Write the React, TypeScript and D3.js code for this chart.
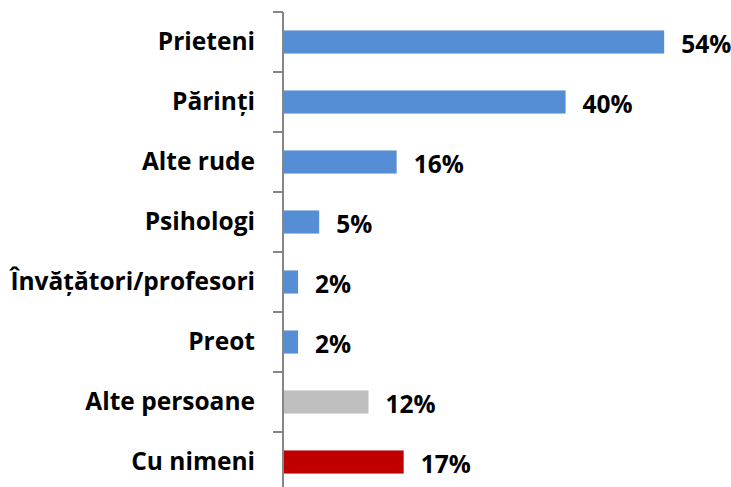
import { useEffect, useRef } from "react";
import * as d3 from "d3";

const categories = [
  "Prieteni",
  "Părinți",
  "Alte rude",
  "Psihologi",
  "Învățători/profesori",
  "Preot",
  "Alte persoane",
  "Cu nimeni",
];
const values = [54, 40, 16, 5, 2, 2, 12, 17];
const colors = ["#558ED5", "#558ED5", "#558ED5", "#558ED5", "#558ED5", "#558ED5", "#BFBFBF", "#C00000"];

const W = 731;
const H = 487;

export default function App() {
  const ref = useRef<SVGSVGElement>(null);

  useEffect(() => {
    document.body.style.margin = "0";
    const svg = d3.select(ref.current);
    svg.selectAll("*").remove(); // Clear before redraw

    const axisX = 283;
    const y = d3.scaleBand<string>().domain(categories).range([12, 492]).padding(0);
    const x = d3.scaleLinear().domain([0, 100]).range([axisX + 1, axisX + 1 + 704]);
    const barH = y.step() * 0.385;
    const mid = (c: string) => y(c)! + y.bandwidth() / 2;

    const font = "'Open Sans', 'Noto Sans', sans-serif";

    // Bars
    svg
      .selectAll("rect.bar")
      .data(values)
      .join("rect")
      .attr("class", "bar")
      .attr("x", x(0))
      .attr("y", (_, i) => mid(categories[i]) - barH / 2)
      .attr("width", (d) => x(d) - x(0))
      .attr("height", barH)
      .attr("fill", (_, i) => colors[i]);

    // Axis line and ticks
    svg
      .append("line")
      .attr("x1", axisX)
      .attr("x2", axisX)
      .attr("y1", 12)
      .attr("y2", H)
      .attr("stroke", "#868686")
      .attr("stroke-width", 2);

    svg
      .selectAll("line.tick")
      .data(categories)
      .join("line")
      .attr("class", "tick")
      .attr("x1", axisX - 10)
      .attr("x2", axisX)
      .attr("y1", (d) => y(d)!)
      .attr("y2", (d) => y(d)!)
      .attr("stroke", "#868686")
      .attr("stroke-width", 2);

    // Category labels
    svg
      .selectAll("text.cat")
      .data(categories)
      .join("text")
      .attr("class", "cat")
      .attr("x", 255)
      .attr("y", (d) => mid(d) + 8)
      .attr("text-anchor", "end")
      .style("font-family", font)
      .style("font-weight", "bold")
      .style("font-size", "24.5px")
      .attr("fill", "#000")
      .text((d) => d);

    // Value labels
    svg
      .selectAll("text.val")
      .data(values)
      .join("text")
      .attr("class", "val")
      .attr("x", (d) => x(d) + 17)
      .attr("y", (_, i) => mid(categories[i]) + 10.5)
      .style("font-family", font)
      .style("font-weight", "bold")
      .style("font-size", "24.5px")
      .attr("fill", "#000")
      .text((d) => d + "%");
  }, []);

  return <svg ref={ref} width={W} height={H} style={{ display: "block" }}></svg>;
}
